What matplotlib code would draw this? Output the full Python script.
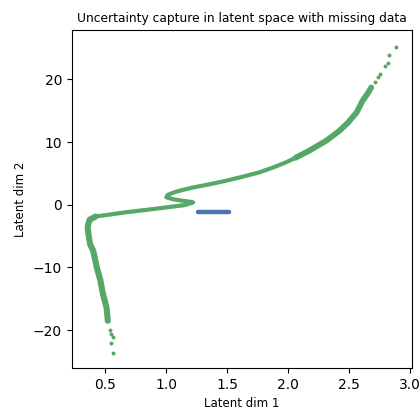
import matplotlib
matplotlib.use("Agg")
import matplotlib.pyplot as plt

# dense band of the green curve (top -> bottom)
upper_x = [2.68, 2.65, 2.61, 2.56, 2.49, 2.42, 2.31, 2.17, 2.06]
upper_y = [18.7, 17.7, 16.6, 14.7, 13.1, 11.8, 10.2, 8.6, 7.5]

middle_x = [2.06, 1.98, 1.87, 1.76, 1.62, 1.49, 1.35, 1.22, 1.12, 1.06, 1.01, 1.00,
            1.05, 1.12, 1.19, 1.22, 1.15, 0.93, 0.66, 0.42]
middle_y = [7.5, 6.75, 5.9, 5.15, 4.45, 3.83, 3.25, 2.76, 2.3, 1.96, 1.55, 1.2,
            0.9, 0.68, 0.5, 0.37, -0.05, -0.59, -1.22, -1.87]

lower_x = [0.42, 0.37, 0.355, 0.36, 0.375, 0.40, 0.43, 0.46, 0.48, 0.51, 0.52]
lower_y = [-1.87, -2.4, -3.5, -4.5, -6.3, -7.3, -10.0, -12.1, -14.2, -16.4, -18.5]

# isolated points at both ends
tail_x = [2.88, 2.83, 2.82, 2.79, 2.75, 2.74, 2.71, 0.54, 0.55, 0.56, 0.55, 0.56]
tail_y = [25.2, 23.9, 22.6, 22.2, 20.8, 20.4, 19.5, -19.9, -20.6, -21.1, -22.0, -23.6]

# blue cluster (observed data)
blue_x = [1.26, 1.32, 1.38, 1.44, 1.51]
blue_y = [-1.12, -1.12, -1.12, -1.12, -1.12]

green = "#55a868"
blue = "#4c72b0"

fig = plt.figure(figsize=(4.2, 4.11), dpi=100)
ax = fig.add_subplot(111)
fig.subplots_adjust(left=0.171, right=0.981, bottom=0.105, top=0.926)

style = dict(color=green, solid_capstyle="round", solid_joinstyle="round")
ax.plot(upper_x, upper_y, lw=4.2, **style)
ax.plot(middle_x, middle_y, lw=3.0, **style)
ax.plot(lower_x, lower_y, lw=4.4, **style)
ax.scatter(tail_x, tail_y, s=8, color=green, linewidths=0)
ax.plot(blue_x, blue_y, color=blue, lw=3.2, solid_capstyle="round")

ax.set_xlim(0.225, 3.015)
ax.set_ylim(-26.0, 27.8)
ax.set_xticks([0.5, 1.0, 1.5, 2.0, 2.5, 3.0])
ax.set_yticks([-20, -10, 0, 10, 20])
ax.set_xlabel("Latent dim 1", fontsize=8.5)
ax.set_ylabel("Latent dim 2", fontsize=8.5)
ax.set_title("Uncertainty capture in latent space with missing data", fontsize=8.8)

plt.savefig("out.png", dpi=100)
